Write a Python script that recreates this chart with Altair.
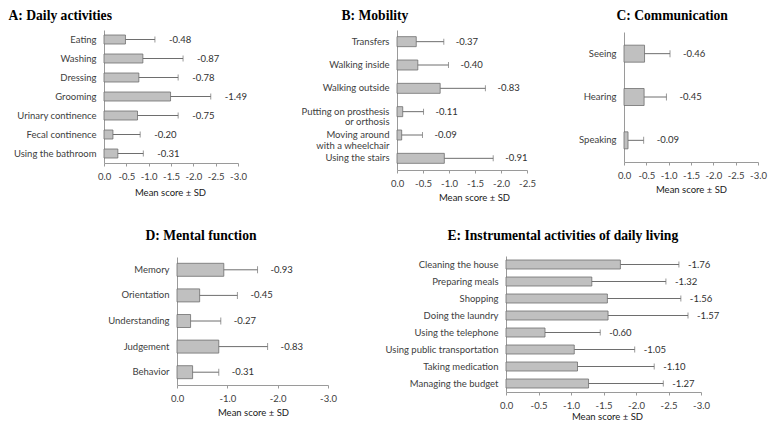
import altair as alt
import pandas as pd

# ---------------- data ----------------
a_items = ["Eating", "Washing", "Dressing", "Grooming", "Urinary continence",
           "Fecal continence", "Using the bathroom"]
a_mean = [-0.48, -0.87, -0.78, -1.49, -0.75, -0.20, -0.31]
a_sd = [0.66, 0.90, 0.88, 0.90, 0.91, 0.61, 0.57]

b_items = ["Transfers", "Walking inside", "Walking outside",
           "Putting on prosthesis|or orthosis", "Moving around|with a wheelchair",
           "Using the stairs"]
b_mean = [-0.37, -0.40, -0.83, -0.11, -0.09, -0.91]
b_sd = [0.53, 0.59, 0.87, 0.40, 0.40, 0.94]

c_items = ["Seeing", "Hearing", "Speaking"]
c_mean = [-0.46, -0.45, -0.09]
c_sd = [0.57, 0.50, 0.35]

d_items = ["Memory", "Orientation", "Understanding", "Judgement", "Behavior"]
d_mean = [-0.93, -0.45, -0.27, -0.83, -0.31]
d_sd = [0.67, 0.75, 0.60, 0.97, 0.52]

e_items = ["Cleaning the house", "Preparing meals", "Shopping", "Doing the laundry",
           "Using the telephone", "Using public transportation", "Taking medication",
           "Managing the budget"]
e_mean = [-1.76, -1.32, -1.56, -1.57, -0.60, -1.05, -1.10, -1.27]
e_sd = [0.90, 1.14, 1.13, 1.23, 0.85, 0.93, 1.18, 1.15]

ticks_half_3 = [0.0, -0.5, -1.0, -1.5, -2.0, -2.5, -3.0]
ticks_half_25 = [0.0, -0.5, -1.0, -1.5, -2.0, -2.5]
ticks_one_3 = [0.0, -1.0, -2.0, -3.0]

W, H = 761, 405
FONT = "Lato"
FS = 9.5
AXIS_GREY = "#9a9a9a"
BAR_EDGE = "#6e6e6e"
LABEL_EXPR_X = "replace(format(datum.value, '.1f'), '\u2212', '-')"


def panel(title, items, means, sds, xr, yr, domain_min, ticks, bar_size, cap_size,
          label_dx, title_pos, xtitle_pos):
    df = pd.DataFrame({"item": items, "mean": means, "sd": sds})
    df["end"] = df["mean"] - df["sd"]
    df["label"] = [f"{m:.2f}" for m in means]

    y = alt.Y("item:N", sort=items,
              scale=alt.Scale(paddingInner=0, paddingOuter=0, range=yr),
              axis=alt.Axis(orient="left", offset=-xr[0], ticks=False, tickSize=0,
                            labelPadding=8, labelExpr="split(datum.label, '|')",
                            domainColor=AXIS_GREY, labelColor="#404040",
                            labelFont=FONT, labelFontSize=FS, labelLimit=300,
                            labelLineHeight=10.5, labelOverlap=False, title=title,
                            titleAngle=0, titleAlign="left",
                            titleBaseline="alphabetic",
                            titleX=title_pos[0], titleY=title_pos[1],
                            titleFont="Liberation Serif", titleFontSize=13.6,
                            titleFontWeight="bold", titleColor="#000000"))
    xscale = alt.Scale(domain=[0, domain_min], range=xr, nice=False, zero=False)
    x = alt.X("mean:Q", scale=xscale,
              axis=alt.Axis(orient="bottom", offset=yr[1] - H, values=ticks,
                            labelExpr=LABEL_EXPR_X, labelOverlap=False,
                            labelFlush=False, grid=False,
                            tickSize=3, tickColor=AXIS_GREY, domainColor=AXIS_GREY,
                            labelColor="#404040", labelFont=FONT, labelFontSize=FS,
                            labelPadding=5, title="Mean score \u00b1 SD",
                            titleFont=FONT, titleFontSize=FS,
                            titleFontWeight="normal", titleColor="#202020",
                            titleBaseline="middle", titleX=xtitle_pos[0],
                            titleY=xtitle_pos[1]))

    base = alt.Chart(df).encode(y=y)
    bars = base.mark_bar(size=bar_size, fill="#c0c0c0", stroke=BAR_EDGE,
                         strokeWidth=0.8).encode(x=x)
    err = base.mark_rule(color=BAR_EDGE, strokeWidth=1).encode(
        x=alt.X("mean:Q", scale=xscale), x2="end:Q")
    cap = base.mark_tick(color=BAR_EDGE, size=cap_size, thickness=1).encode(
        x=alt.X("end:Q", scale=xscale))
    txt = base.mark_text(align="left", baseline="middle", dx=label_dx, font=FONT,
                         fontSize=FS, color="#303030").encode(
        x=alt.X("end:Q", scale=xscale), text="label:N")
    return alt.layer(bars, err, cap, txt)


# pixel regions inside the view (page coordinates minus the 8px margin)
pa = panel("A: Daily activities", a_items, a_mean, a_sd, [96, 230], [22, 155], -3.0,
           ticks_half_3, 9, 6, 14, (-96, 11), (162, 29))
pb = panel("B: Mobility", b_items, b_mean, b_sd, [389, 519], [22, 162], -2.5,
           ticks_half_25, 10, 6, 12, (-56, 11), (466, 27))
pc = panel("C: Communication", c_items, c_mean, c_sd, [616, 750], [24, 154], -3.0,
           ticks_half_3, 17, 7, 13, (-8, 11), (683, 27))
pd_ = panel("D: Mental function", d_items, d_mean, d_sd, [169, 320], [249, 377], -3.0,
            ticks_one_3, 13, 7, 13, (-32, 231), (245, 27))
pe = panel("E: Instrumental activities of daily living", e_items, e_mean, e_sd,
           [498, 693], [248, 384], -3.0, ticks_half_3, 9, 6, 9, (-59, 231), (599, 24))

chart = alt.layer(pa, pb, pc, pd_, pe).resolve_scale(
    x="independent", y="independent").properties(
    width=W, height=H, padding=0, background="white").configure_view(
    stroke="transparent")

chart.save("out.html", embed_options={"renderer": "svg", "actions": False})
